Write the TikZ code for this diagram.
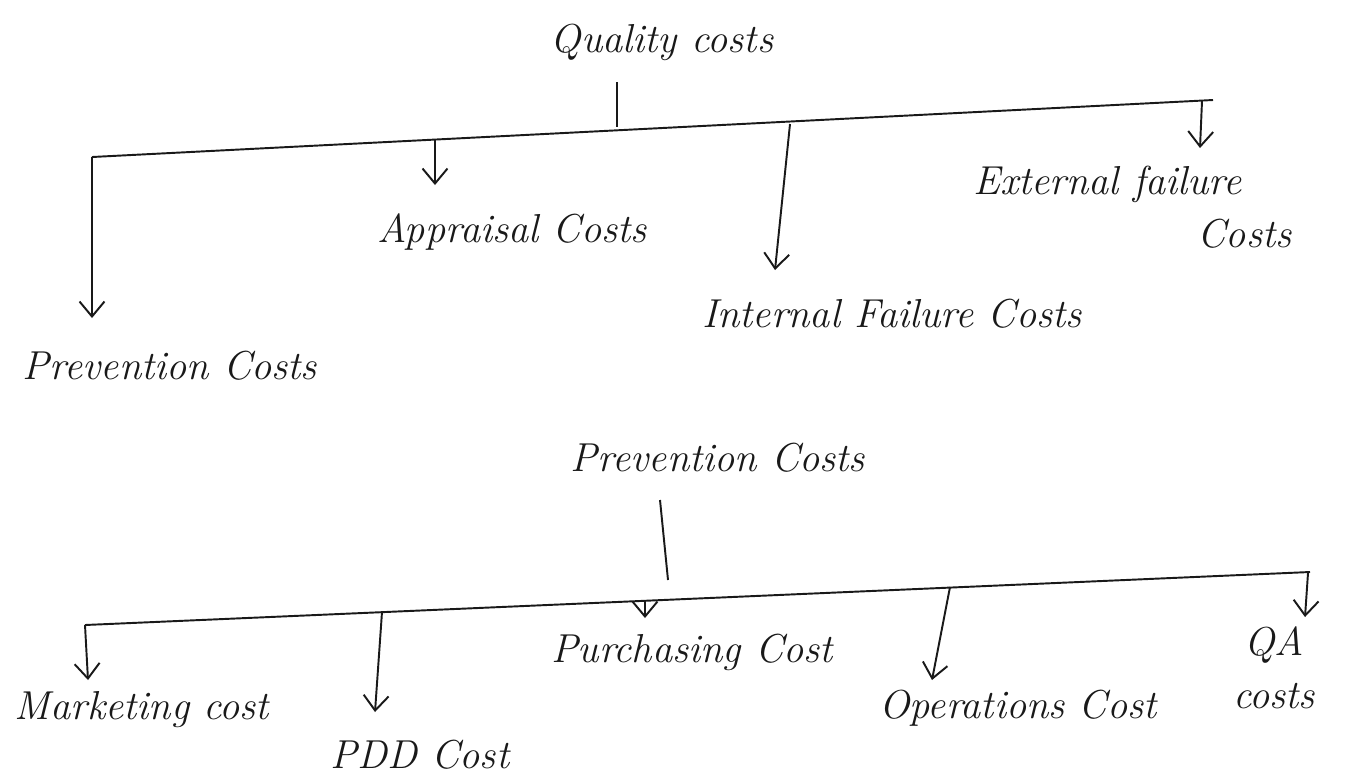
\documentclass[tikz,border=0pt]{standalone}
\usetikzlibrary{arrows.meta}
\begin{document}
\begin{tikzpicture}[x=0.02cm,y=-0.02cm,
  ink/.style={line width=1.1pt,draw=black!90},
  drop/.style={ink,-{Straight Barb[length=3mm,width=5mm]}},
  lbl/.style={inner sep=0pt,font=\fontsize{23}{30}\selectfont\itshape,text=black!90}]
\useasboundingbox[fill=white] (0,0) rectangle (1348,779);

% ---- upper tree: quality costs ----
\node[lbl] (qc) at (662,42) {Quality costs};
\coordinate (s1top) at (617,82);
\coordinate (s1bot) at (617,127);
\coordinate (b1L) at (92,157);
\coordinate (b1R) at (1213,100);
\draw[ink] (s1top) -- (s1bot);
\draw[ink] (b1L) -- (b1R);

\coordinate (a1) at (435,140);
\coordinate (a1e) at (435,185);
\coordinate (i1) at (790,124);
\coordinate (i1e) at (775,270);
\coordinate (e1) at (1202,101);
\coordinate (e1e) at (1200,148);
\coordinate (p1e) at (92,318);

\draw[drop] (b1L) -- (p1e);
\draw[drop] (a1) -- (a1e);
\draw[drop] (i1) -- (i1e);
\draw[drop] (e1) -- (e1e);

\node[lbl] (prev1) at (170,366) {Prevention Costs};
\node[lbl] (appr) at (512,232) {Appraisal Costs};
\node[lbl] (intf) at (892,314) {Internal Failure Costs};
\node[lbl,align=right,anchor=north east] (extf) at (1292,166) {External failure\hspace*{1cm}\\Costs};

% ---- lower tree: prevention costs ----
\node[lbl] (prev2) at (718,458) {Prevention Costs};
\coordinate (s2top) at (660,500);
\coordinate (s2bot) at (668,580);
\coordinate (b2L) at (85,625);
\coordinate (b2R) at (1310,572);
\draw[ink] (s2top) -- (s2bot);
\draw[ink] (b2L) -- (b2R);

\coordinate (m2e) at (88,680);
\coordinate (d2) at (382,612);
\coordinate (d2e) at (375,712);
\coordinate (u2) at (645,601);
\coordinate (u2e) at (645,618);
\coordinate (o2) at (950,587);
\coordinate (o2e) at (932,680);
\coordinate (q2) at (1308,573);
\coordinate (q2e) at (1305,617);

\draw[drop] (b2L) -- (m2e);
\draw[drop] (d2) -- (d2e);
\draw[drop] (u2) -- (u2e);
\draw[drop] (o2) -- (o2e);
\draw[drop] (q2) -- (q2e);

\node[lbl] (mkt) at (142,710) {Marketing cost};
\node[lbl] (pdd) at (420,755) {PDD Cost};
\node[lbl] (pur) at (692,652) {Purchasing Cost};
\node[lbl] (ops) at (1018,708) {Operations Cost};
\node[lbl,align=center] (qa) at (1274,668) {QA\\costs};
\end{tikzpicture}
\end{document}
